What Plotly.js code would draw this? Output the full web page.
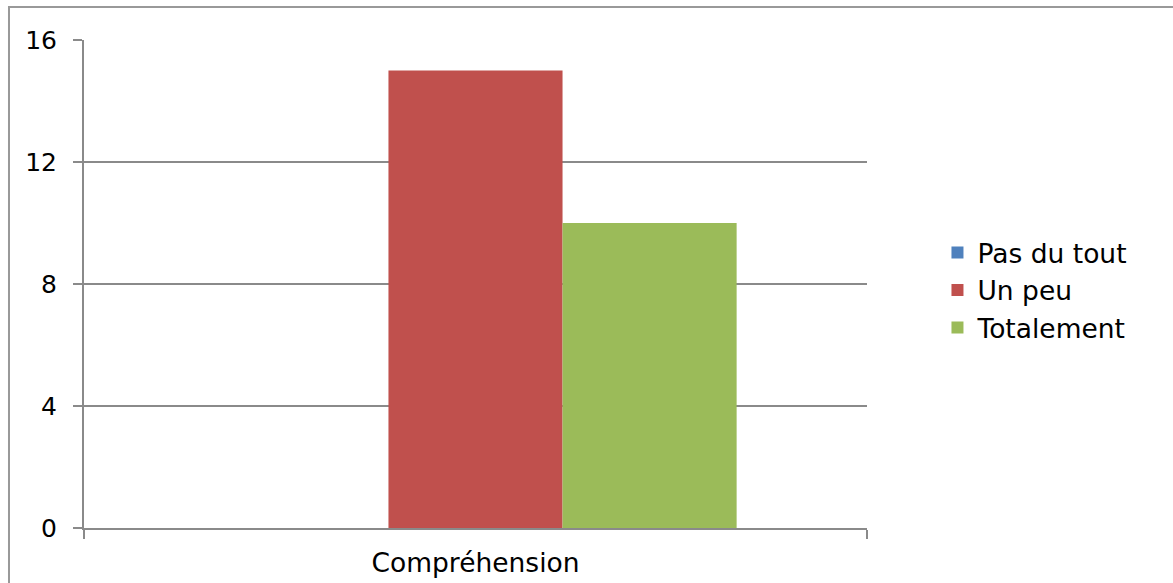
<!DOCTYPE html>
<html>
<head>
<meta charset="utf-8">
<script src="https://cdn.plot.ly/plotly-3.0.1.min.js"></script>
<style>html,body{margin:0;padding:0;background:#fff;}#chart{width:1173px;height:583px;}</style>
</head>
<body>
<div id="chart"></div>
<script>
const categories = ["Compréhension"];
const seriesNames = ["Pas du tout", "Un peu", "Totalement"];
const pasDuTout = [0];
const unPeu = [15];
const totalement = [10];
const yTicks = [0, 4, 8, 12, 16];
const colors = ["#4F81BD", "#C0504D", "#9BBB59"];

const seriesValues = [pasDuTout, unPeu, totalement];
const traces = seriesNames.map((n, i) => ({
  type: "bar",
  name: n,
  legendgroup: "g" + i,
  x: categories,
  y: seriesValues[i],
  marker: {color: colors[i], line: {width: 0}},
  hoverinfo: "none"
}));

const gray = "#8a8a8a";
const layout = {
  width: 1173, height: 583,
  margin: {l: 84, r: 306, t: 40, b: 55, pad: 0},
  paper_bgcolor: "#fff", plot_bgcolor: "#fff",
  font: {family: "DejaVu Sans, Verdana, sans-serif", size: 25, color: "#000"},
  barmode: "group",
  bargap: 0.333,
  bargroupgap: 0,
  showlegend: true,
  legend: {x: 1.09, y: 0.487, xanchor: "left", yanchor: "middle", font: {size: 26.5}, tracegroupgap: 0, itemwidth: 30, bgcolor: "rgba(0,0,0,0)"},
  xaxis: {
    type: "category",
    showline: true, linecolor: gray, linewidth: 2,
    ticks: "outside", tickson: "boundaries", ticklen: 9, tickcolor: gray, tickwidth: 2,
    showgrid: false, zeroline: false,
    tickfont: {size: 26.5},
    ticklabelstandoff: 10
  },
  yaxis: {
    range: [0, 16], tickvals: yTicks, ticktext: yTicks.map(String),
    showline: true, linecolor: gray, linewidth: 2,
    ticks: "outside", ticklen: 9, tickcolor: gray, tickwidth: 2,
    showgrid: true, gridcolor: gray, gridwidth: 2,
    zeroline: false,
    tickfont: {size: 25},
    ticklabelstandoff: 11
  },
  shapes: [{
    type: "rect", xref: "paper", yref: "paper",
    x0: -0.0958, x1: 1.6, y0: -0.3, y1: 1.0676,
    line: {color: "#999", width: 2}, fillcolor: "rgba(0,0,0,0)", layer: "below"
  }]
};

Plotly.newPlot("chart", traces, layout, {staticPlot: true, displayModeBar: false});
</script>
</body>
</html>
